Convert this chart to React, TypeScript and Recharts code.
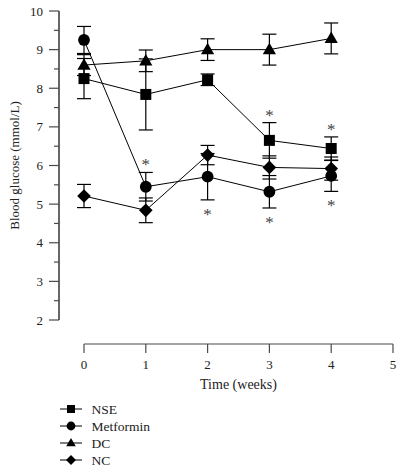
import React from 'react';
import { ComposedChart, Line, XAxis, YAxis, ErrorBar, Legend } from 'recharts';

if (typeof document !== 'undefined') document.body.style.margin = '0';

const weeks = [0, 1, 2, 3, 4];
const nse = [8.25, 7.84, 8.22, 6.65, 6.44];
const nseErr = [0.52, 0.92, 0.15, 0.46, 0.3];
const metformin = [9.25, 5.45, 5.71, 5.32, 5.73];
const metforminErr = [0.35, 0.37, 0.6, 0.42, 0.4];
const dc = [8.6, 8.71, 9.0, 9.0, 9.29];
const dcErr = [0.27, 0.28, 0.28, 0.4, 0.4];
const nc = [5.21, 4.84, 6.27, 5.95, 5.92];
const ncErr = [0.3, 0.32, 0.25, 0.3, 0.3];
const starAboveNSE = [false, false, false, true, true];
const starAboveMetformin = [false, true, false, false, false];
const starBelowMetformin = [false, false, true, true, true];
const xTicks = [0, 1, 2, 3, 4, 5];
const yTicks = [2, 2.5, 3, 3.5, 4, 4.5, 5, 5.5, 6, 6.5, 7, 7.5, 8, 8.5, 9, 9.5, 10];
const seriesNames = ['NSE', 'Metformin', 'DC', 'NC'];
const xLabel = 'Time (weeks)';
const yLabel = 'Blood glucose (mmol/L)';

const data = weeks.map((w, i) => ({
  week: w,
  nse: nse[i],
  nseErr: nseErr[i],
  metformin: metformin[i],
  metforminErr: metforminErr[i],
  dc: dc[i],
  dcErr: dcErr[i],
  nc: nc[i],
  ncErr: ncErr[i],
  starTop: starAboveNSE[i]
    ? nse[i] + nseErr[i]
    : starAboveMetformin[i]
    ? metformin[i] + metforminErr[i]
    : null,
  starBot: starBelowMetformin[i] ? metformin[i] - metforminErr[i] : null,
}));

const FONT = '"Liberation Serif", "Times New Roman", serif';
const AXIS = '#4a4a4a';
const TEXT = '#222';
const STAR = '#444';

type MarkerKind = 'square' | 'circle' | 'triangle' | 'diamond';
const kinds: MarkerKind[] = ['square', 'circle', 'triangle', 'diamond'];

function Marker({ cx, cy, kind, s }: { cx: number; cy: number; kind: MarkerKind; s: number }) {
  if (kind === 'square') return <rect x={cx - s / 2} y={cy - s / 2} width={s} height={s} fill="#000" />;
  if (kind === 'circle') return <circle cx={cx} cy={cy} r={s / 2 + 0.4} fill="#000" />;
  if (kind === 'triangle') {
    const w = s * 1.2;
    const h = s * 1.05;
    return (
      <polygon
        points={`${cx},${cy - h * 0.6} ${cx + w / 2},${cy + h * 0.4} ${cx - w / 2},${cy + h * 0.4}`}
        fill="#000"
      />
    );
  }
  const d = s * 0.62;
  return <polygon points={`${cx},${cy - d} ${cx + d},${cy} ${cx},${cy + d} ${cx - d},${cy}`} fill="#000" />;
}

const makeDot = (kind: MarkerKind) => (props: any) => {
  const { cx, cy, index } = props;
  if (cx == null || cy == null) return <g key={`d-${kind}-${index}`} />;
  return (
    <g key={`d-${kind}-${index}`}>
      <Marker cx={cx} cy={cy} kind={kind} s={11} />
    </g>
  );
};

const starDot = (below: boolean) => (props: any) => {
  const { cx, cy, index } = props;
  if (cx == null || cy == null || props.value == null) return <g key={`s-${below}-${index}`} />;
  return (
    <text
      key={`s-${below}-${index}`}
      x={cx}
      y={below ? cy + 20 : cy - 2}
      textAnchor="middle"
      fontFamily={FONT}
      fontSize={17}
      fill={STAR}
    >
      *
    </text>
  );
};

// remembers the pixel row of each y tick so the axis spine can be drawn from the lowest tick to the highest
const tickRows: Record<string, number> = {};

// YAxis uses default tickSize (6) and tickMargin (2): tick x = axis edge - 8
const YTick = (props: any) => {
  const { x, y, payload } = props;
  const v = payload.value;
  tickRows[String(v)] = y;
  const major = Number.isInteger(v);
  const ax = x + 8 - 25;
  const topY = tickRows[String(yTicks[yTicks.length - 1])];
  const spine = v === yTicks[0] && typeof topY === 'number' && topY < y;
  return (
    <g>
      {spine && <path d={`M${ax},${y}L${ax},${topY}`} stroke={AXIS} strokeWidth={1.2} fill="none" />}
      <line x1={ax - (major ? 10 : 5)} x2={ax} y1={y} y2={y} stroke={AXIS} strokeWidth={1.2} />
      {major && (
        <text x={ax - 16} y={y} dy="0.35em" textAnchor="end" fontFamily={FONT} fontSize={13} fill={TEXT}>
          {v}
        </text>
      )}
    </g>
  );
};

const XTick = (props: any) => {
  const { x, y, payload } = props;
  const ay = y + 24;
  return (
    <g>
      <line x1={x} x2={x} y1={ay} y2={ay + 9} stroke={AXIS} strokeWidth={1.2} />
      <text x={x} y={ay + 20} dy="0.35em" textAnchor="middle" fontFamily={FONT} fontSize={13} fill={TEXT}>
        {payload.value}
      </text>
    </g>
  );
};

const LegendContent = () => (
  <svg width={160} height={70} style={{ display: 'block' }}>
    {seriesNames.map((name, i) => {
      const y = 9 + i * 17;
      return (
        <g key={name}>
          <line x1={5} x2={27} y1={y} y2={y} stroke="#000" strokeWidth={1} />
          <Marker cx={16} cy={y} kind={kinds[i]} s={8} />
          <text x={36.5} y={y} dy="0.35em" fontFamily={FONT} fontSize={13.5} fill={TEXT}>
            {name}
          </text>
        </g>
      );
    })}
  </svg>
);

const xMin = xTicks[0];
const xMax = xTicks[xTicks.length - 1];
const yMin = yTicks[0];
const yMax = yTicks[yTicks.length - 1];

export default function App() {
  const [, setTick] = React.useState(0);
  React.useEffect(() => {
    const id = setTimeout(() => setTick(1), 0);
    return () => clearTimeout(id);
  }, []);
  return (
    <div style={{ width: 403, height: 470, background: '#fff' }}>
      <ComposedChart
        width={403}
        height={470}
        data={data}
        margin={{ top: 11, right: 10, bottom: 0, left: 0 }}
      >
        <XAxis
          dataKey="week"
          type="number"
          domain={[xMin, xMax]}
          ticks={xTicks}
          axisLine={{ stroke: AXIS, strokeWidth: 1.2, transform: 'translate(0, 24)' } as any}
          tickLine={false}
          tickSize={0}
          tickMargin={0}
          height={150}
          tick={<XTick />}
          interval={0}
          label={{
            content: (p: any) => {
              const vb = p.viewBox;
              return (
                <text
                  x={vb.x + vb.width / 2}
                  y={vb.y + 69}
                  textAnchor="middle"
                  fontFamily={FONT}
                  fontSize={14}
                  fill={TEXT}
                >
                  {xLabel}
                </text>
              );
            },
          }}
        />
        <YAxis
          type="number"
          domain={[yMin, yMax]}
          ticks={yTicks}
          axisLine={{ stroke: AXIS, strokeWidth: 1.2, transform: 'translate(-25, 0)' } as any}
          tickLine={false}
          width={84}
          tick={(p: any) => <YTick {...p} />}
          interval={0}
          label={{
            content: (p: any) => {
              const vb = p.viewBox;
              const cy = vb.y + vb.height / 2;
              return (
                <text
                  x={19}
                  y={cy}
                  transform={`rotate(-90, 19, ${cy})`}
                  textAnchor="middle"
                  fontFamily={FONT}
                  fontSize={13}
                  fill={TEXT}
                >
                  {yLabel}
                </text>
              );
            },
          }}
        />
        <Line
          dataKey="nc"
          name="NC"
          stroke="#000"
          strokeWidth={1}
          dot={makeDot('diamond')}
          activeDot={false}
          isAnimationActive={false}
        >
          <ErrorBar dataKey="ncErr" width={7} stroke="#000" strokeWidth={1.2} direction="y" />
        </Line>
        <Line
          dataKey="dc"
          name="DC"
          stroke="#000"
          strokeWidth={1}
          dot={makeDot('triangle')}
          activeDot={false}
          isAnimationActive={false}
        >
          <ErrorBar dataKey="dcErr" width={7} stroke="#000" strokeWidth={1.2} direction="y" />
        </Line>
        <Line
          dataKey="metformin"
          name="Metformin"
          stroke="#000"
          strokeWidth={1}
          dot={makeDot('circle')}
          activeDot={false}
          isAnimationActive={false}
        >
          <ErrorBar dataKey="metforminErr" width={7} stroke="#000" strokeWidth={1.2} direction="y" />
        </Line>
        <Line
          dataKey="nse"
          name="NSE"
          stroke="#000"
          strokeWidth={1}
          dot={makeDot('square')}
          activeDot={false}
          isAnimationActive={false}
        >
          <ErrorBar dataKey="nseErr" width={7} stroke="#000" strokeWidth={1.2} direction="y" />
        </Line>
        <Line
          dataKey="starTop"
          stroke="none"
          dot={starDot(false)}
          activeDot={false}
          legendType="none"
          isAnimationActive={false}
          connectNulls={false}
        />
        <Line
          dataKey="starBot"
          stroke="none"
          dot={starDot(true)}
          activeDot={false}
          legendType="none"
          isAnimationActive={false}
          connectNulls={false}
        />
        <Legend
          layout="vertical"
          align="center"
          verticalAlign="middle"
          content={<LegendContent />}
          wrapperStyle={{ left: 55, top: 400, width: 160, height: 70 }}
        />
      </ComposedChart>
    </div>
  );
}
